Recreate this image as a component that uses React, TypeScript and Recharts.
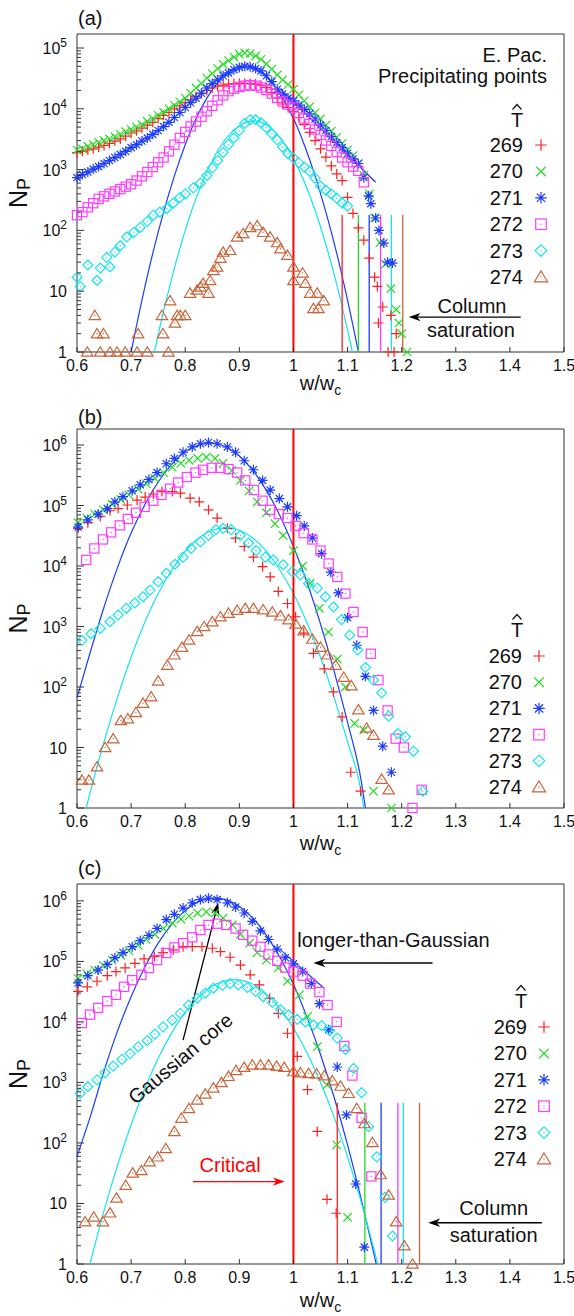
import React from "react";
import {
  ComposedChart,
  Scatter,
  Line,
  XAxis,
  YAxis,
  ReferenceLine,
  ReferenceArea,
  ReferenceDot,
  Legend,
} from "recharts";

const FONT = "'Liberation Sans', Arial, Helvetica, sans-serif";
const W = 574;

type Pt = [number, number];

// series: T-hat values, colours, gnuplot point types
const temps = ["269", "270", "271", "272", "273", "274"];
const colors = ["#ff2020", "#22dd22", "#1c3cff", "#ff3cff", "#14e4ee", "#c8643a"];
const kinds = ["plus", "cross", "star", "square", "diamond", "triangle"];
const fitBlue = "#1a3cff";
const fitCyan = "#14e4ee";

const xTicks = [0.6, 0.7, 0.8, 0.9, 1, 1.1, 1.2, 1.3, 1.4, 1.5];
const yMajorA = [1, 10, 100, 1e3, 1e4, 1e5];
const yMajorBC = [1, 10, 100, 1e3, 1e4, 1e5, 1e6];

// ---------- panel (a): E. Pac., precipitating points ----------
const a269: Pt[] = [
  [0.6, 1900], [0.61, 2000], [0.62, 2100], [0.63, 2200], [0.64, 2350], [0.65, 2500], [0.66, 2700], [0.67, 2950],
  [0.68, 3200], [0.69, 3550], [0.7, 4000], [0.71, 4350], [0.72, 4800], [0.73, 5400], [0.74, 6000], [0.75, 6900],
  [0.76, 7800], [0.77, 8700], [0.78, 1.0e4], [0.79, 1.12e4], [0.8, 1.26e4], [0.81, 1.4e4], [0.82, 1.6e4], [0.83, 1.8e4],
  [0.84, 2.0e4], [0.85, 2.2e4], [0.86, 2.35e4], [0.87, 2.45e4], [0.88, 2.55e4], [0.89, 2.6e4], [0.9, 2.6e4], [0.91, 2.6e4],
  [0.92, 2.6e4], [0.93, 2.55e4], [0.94, 2.45e4], [0.95, 2.25e4], [0.96, 1.85e4], [0.97, 1.5e4], [0.98, 1.2e4], [0.99, 1.05e4],
  [1.0, 9100], [1.01, 7200], [1.02, 5500], [1.03, 4100], [1.04, 3000], [1.05, 2200], [1.06, 1600], [1.07, 1150],
  [1.08, 850], [1.09, 660], [1.1, 350], [1.11, 190], [1.12, 110], [1.13, 69], [1.14, 35], [1.15, 17],
  [1.155, 12], [1.157, 3], [1.165, 5.5], [1.175, 1], [1.18, 4], [1.186, 1], [1.19, 2],
];
const a270: Pt[] = [
  [0.6, 2100], [0.61, 2200], [0.62, 2400], [0.63, 2600], [0.64, 2800], [0.65, 3000], [0.66, 3200], [0.67, 3500],
  [0.68, 3800], [0.69, 4200], [0.7, 4600], [0.71, 5000], [0.72, 5500], [0.73, 6200], [0.74, 6900], [0.75, 7800],
  [0.76, 8700], [0.77, 1.0e4], [0.78, 1.15e4], [0.79, 1.3e4], [0.8, 1.5e4], [0.81, 1.8e4], [0.82, 2.2e4], [0.83, 2.6e4],
  [0.84, 3.2e4], [0.85, 3.8e4], [0.86, 4.6e4], [0.87, 5.4e4], [0.88, 6.2e4], [0.89, 7.1e4], [0.9, 7.9e4], [0.91, 8.3e4],
  [0.92, 8.1e4], [0.93, 7.4e4], [0.94, 6.5e4], [0.95, 5.5e4], [0.96, 4.5e4], [0.97, 3.6e4], [0.98, 3.0e4], [0.99, 2.5e4],
  [1.0, 2.1e4], [1.01, 1.7e4], [1.02, 1.35e4], [1.03, 1.08e4], [1.04, 8600], [1.05, 6800], [1.06, 5400], [1.07, 4300],
  [1.08, 3400], [1.09, 2700], [1.1, 2100], [1.11, 1700], [1.12, 1260], [1.13, 800], [1.14, 400], [1.15, 160],
  [1.16, 63], [1.17, 28], [1.18, 11], [1.19, 5], [1.195, 3], [1.2, 2], [1.21, 1],
];
const a271: Pt[] = [
  [0.6, 740], [0.61, 830], [0.62, 910], [0.63, 1020], [0.64, 1120], [0.65, 1260], [0.66, 1410], [0.67, 1580],
  [0.68, 1780], [0.69, 2000], [0.7, 2300], [0.71, 2570], [0.72, 2950], [0.73, 3300], [0.74, 3800], [0.75, 4400],
  [0.76, 5100], [0.77, 6000], [0.78, 7200], [0.79, 8700], [0.8, 1.05e4], [0.81, 1.26e4], [0.82, 1.5e4], [0.83, 1.8e4],
  [0.84, 2.2e4], [0.85, 2.6e4], [0.86, 3.0e4], [0.87, 3.5e4], [0.88, 3.9e4], [0.89, 4.4e4], [0.9, 4.8e4], [0.91, 5.0e4],
  [0.92, 4.9e4], [0.93, 4.6e4], [0.94, 4.2e4], [0.95, 3.5e4], [0.96, 2.8e4], [0.97, 2.1e4], [0.98, 1.75e4], [0.99, 1.5e4],
  [1.0, 1.35e4], [1.01, 1.15e4], [1.02, 9800], [1.03, 8300], [1.04, 6800], [1.05, 5400], [1.06, 4400], [1.07, 3500],
  [1.08, 2800], [1.09, 2300], [1.1, 1860], [1.11, 1500], [1.12, 1260], [1.13, 740], [1.139, 370], [1.143, 275],
  [1.152, 160], [1.158, 100], [1.167, 62], [1.174, 30], [1.183, 29],
];
const a272: Pt[] = [
  [0.6, 178], [0.61, 200], [0.62, 240], [0.63, 280], [0.64, 330], [0.65, 363], [0.66, 400], [0.67, 437],
  [0.68, 479], [0.69, 525], [0.7, 575], [0.71, 660], [0.72, 776], [0.73, 912], [0.74, 1100], [0.75, 1320],
  [0.76, 1580], [0.77, 2000], [0.78, 2570], [0.79, 3310], [0.8, 4170], [0.81, 5130], [0.82, 6170], [0.83, 7410],
  [0.84, 9120], [0.85, 1.12e4], [0.86, 1.38e4], [0.87, 1.66e4], [0.88, 1.95e4], [0.89, 2.14e4], [0.9, 2.29e4], [0.91, 2.4e4],
  [0.92, 2.45e4], [0.93, 2.4e4], [0.94, 2.24e4], [0.95, 2.04e4], [0.96, 1.78e4], [0.97, 1.51e4], [0.98, 1.32e4], [0.99, 1.17e4],
  [1.0, 1.05e4], [1.01, 8510], [1.02, 6920], [1.03, 5620], [1.04, 4570], [1.05, 3720], [1.06, 3020], [1.07, 2450],
  [1.08, 1950], [1.09, 1580], [1.1, 1320], [1.11, 1120], [1.12, 955], [1.13, 617],
];
const a273: Pt[] = [
  [0.6, 17], [0.606, 12], [0.62, 27], [0.637, 15], [0.643, 24], [0.655, 36], [0.661, 25], [0.67, 44],
  [0.68, 56], [0.692, 78], [0.705, 93], [0.717, 112], [0.73, 141], [0.741, 178], [0.753, 200], [0.766, 229],
  [0.778, 282], [0.79, 347], [0.8, 398], [0.815, 501], [0.828, 600], [0.84, 800], [0.85, 1070], [0.86, 1410],
  [0.87, 1910], [0.88, 2570], [0.89, 3310], [0.9, 4370], [0.91, 5750], [0.92, 6610], [0.93, 6610], [0.94, 5890],
  [0.95, 4900], [0.96, 3890], [0.97, 3090], [0.98, 2340], [0.99, 1820], [1.0, 1550], [1.01, 1290], [1.02, 1100],
  [1.03, 933], [1.04, 724], [1.05, 537], [1.06, 457], [1.07, 398], [1.08, 339], [1.09, 282], [1.1, 251],
];
const a274: Pt[] = [
  [0.619, 1], [0.633, 4], [0.637, 2], [0.643, 1], [0.649, 2], [0.661, 1], [0.674, 1], [0.689, 1],
  [0.711, 1], [0.713, 2], [0.73, 1], [0.757, 4], [0.759, 2], [0.769, 1], [0.772, 7], [0.781, 3],
  [0.785, 4], [0.791, 4], [0.8, 4], [0.809, 9.3], [0.822, 10.5], [0.828, 11.7], [0.833, 13.5], [0.843, 9.3],
  [0.846, 15], [0.852, 22], [0.859, 25], [0.865, 35], [0.87, 44], [0.883, 47], [0.896, 78], [0.907, 89],
  [0.92, 112], [0.933, 120], [0.944, 93], [0.957, 78], [0.97, 63], [0.976, 50], [0.989, 39], [1.0, 25],
  [1.0, 15], [1.017, 20], [1.022, 13.5], [1.031, 9.3], [1.037, 5.2], [1.044, 9.3], [1.046, 5.2], [1.056, 7],
];
const aFit271: Pt[] = [
  [0.7, 1], [0.72, 7.1], [0.74, 42], [0.76, 200], [0.78, 790], [0.8, 2570], [0.82, 6900], [0.84, 1.5e4],
  [0.86, 2.7e4], [0.88, 4.0e4], [0.9, 4.9e4], [0.91, 5.0e4], [0.92, 4.9e4], [0.94, 4.0e4], [0.96, 2.7e4], [0.98, 1.5e4],
  [1.0, 6900], [1.02, 2570], [1.04, 790], [1.06, 200], [1.08, 42], [1.1, 7.1], [1.12, 1],
];
const aFit273: Pt[] = [
  [0.743, 1], [0.76, 4.7], [0.78, 24], [0.8, 100], [0.82, 338], [0.84, 912], [0.86, 2040], [0.88, 3630],
  [0.9, 5250], [0.926, 6310], [0.94, 6030], [0.96, 4680], [0.98, 2950], [1.0, 1510], [1.02, 631], [1.04, 214],
  [1.06, 58], [1.08, 13], [1.1, 2.3], [1.109, 1],
];
const aTail271: Pt[] = [[0.976, 2.1e4], [1.152, 620]];
const aSat = [1.09, 1.12, 1.14, 1.161, 1.181, 1.202];

// ---------- panel (b) ----------
const b269: Pt[] = [
  [0.602, 4.2e4], [0.62, 5.2e4], [0.643, 6.6e4], [0.661, 8.2e4], [0.676, 8.9e4], [0.693, 1.02e5], [0.711, 1.23e5], [0.726, 1.38e5],
  [0.741, 1.55e5], [0.757, 1.7e5], [0.776, 1.7e5], [0.791, 1.6e5], [0.809, 1.32e5], [0.826, 1.15e5], [0.843, 8.5e4], [0.859, 6.2e4],
  [0.878, 4.2e4], [0.893, 2.9e4], [0.909, 2.1e4], [0.926, 1.4e4], [0.943, 9800], [0.957, 6600], [0.972, 3800], [0.989, 2400],
  [1.004, 1450], [1.019, 780], [1.037, 360], [1.057, 200], [1.074, 83], [1.09, 32], [1.106, 3.9], [1.124, 1.9],
];
const b270: Pt[] = [
  [0.602, 5.2e4], [0.618, 6.2e4], [0.633, 7.2e4], [0.649, 8.5e4], [0.665, 1.05e5], [0.681, 1.26e5], [0.696, 1.5e5], [0.713, 1.86e5],
  [0.728, 2.3e5], [0.744, 2.8e5], [0.76, 3.5e5], [0.776, 4.3e5], [0.792, 5.0e5], [0.807, 5.6e5], [0.823, 6.0e5], [0.839, 6.3e5],
  [0.855, 6.0e5], [0.87, 5.0e5], [0.886, 3.8e5], [0.902, 2.6e5], [0.918, 1.74e5], [0.933, 1.15e5], [0.95, 7.6e4], [0.966, 5.0e4],
  [0.981, 3.2e4], [1.0, 1.8e4], [1.017, 1.0e4], [1.031, 5200], [1.048, 2000], [1.065, 810], [1.081, 290], [1.096, 100],
  [1.113, 25], [1.13, 19.5], [1.148, 1.9], [1.181, 1],
];
const b271: Pt[] = [
  [0.602, 4.4e4], [0.62, 5.8e4], [0.639, 7.2e4], [0.656, 8.9e4], [0.67, 1.15e5], [0.685, 1.4e5], [0.702, 1.75e5], [0.717, 2.2e5],
  [0.733, 2.7e5], [0.748, 3.5e5], [0.765, 4.9e5], [0.78, 6.0e5], [0.796, 7.6e5], [0.813, 9.3e5], [0.828, 1.05e6], [0.843, 1.1e6],
  [0.859, 1.05e6], [0.878, 9.3e5], [0.893, 7.6e5], [0.909, 5.5e5], [0.926, 3.9e5], [0.943, 2.6e5], [0.957, 1.8e5], [0.974, 1.3e5],
  [0.989, 9.5e4], [1.006, 6.8e4], [1.02, 4.6e4], [1.035, 2.9e4], [1.052, 1.6e4], [1.069, 7900], [1.083, 3600], [1.1, 1400],
  [1.117, 490], [1.133, 150], [1.148, 41], [1.165, 10.5], [1.181, 3.9],
];
const b272: Pt[] = [
  [0.617, 1.26e4], [0.632, 1.95e4], [0.648, 2.75e4], [0.663, 3.6e4], [0.679, 4.7e4], [0.694, 6.0e4], [0.709, 7.6e4], [0.725, 9.5e4],
  [0.741, 1.2e5], [0.756, 1.5e5], [0.772, 1.9e5], [0.787, 2.4e5], [0.803, 2.95e5], [0.819, 3.5e5], [0.833, 3.9e5], [0.849, 4.2e5],
  [0.865, 4.2e5], [0.88, 4.0e5], [0.896, 3.5e5], [0.911, 2.6e5], [0.927, 1.8e5], [0.943, 1.2e5], [0.957, 8.5e4], [0.973, 7.2e4],
  [0.989, 6.2e4], [1.004, 4.6e4], [1.019, 3.5e4], [1.035, 2.75e4], [1.05, 1.8e4], [1.065, 1.1e4], [1.081, 6600], [1.096, 3500],
  [1.111, 1740], [1.128, 810], [1.143, 355], [1.157, 130], [1.174, 41], [1.189, 14], [1.204, 10], [1.22, 1], [1.237, 2],
];
const b273: Pt[] = [
  [0.609, 590], [0.626, 760], [0.643, 930], [0.661, 1200], [0.676, 1550], [0.691, 2000], [0.707, 2450], [0.722, 3100],
  [0.735, 4000], [0.75, 5500], [0.765, 7600], [0.781, 1.07e4], [0.796, 1.4e4], [0.811, 1.95e4], [0.828, 2.5e4], [0.843, 3.2e4],
  [0.857, 4.0e4], [0.87, 4.2e4], [0.885, 4.0e4], [0.902, 3.2e4], [0.917, 2.4e4], [0.931, 1.8e4], [0.948, 1.4e4], [0.963, 1.26e4],
  [0.981, 1.05e4], [0.998, 8100], [1.013, 7100], [1.028, 5100], [1.044, 4300], [1.059, 3100], [1.074, 2100], [1.089, 1300],
  [1.104, 720], [1.119, 410], [1.133, 210], [1.148, 130], [1.163, 80], [1.176, 33], [1.193, 17], [1.207, 15],
  [1.222, 8.7], [1.239, 1.9],
];
const b274: Pt[] = [
  [0.609, 2.9], [0.622, 2.9], [0.637, 4.8], [0.652, 10], [0.667, 14], [0.681, 28], [0.694, 30], [0.709, 38],
  [0.722, 54], [0.737, 69], [0.75, 126], [0.767, 230], [0.78, 340], [0.794, 455], [0.807, 600], [0.822, 830],
  [0.835, 1000], [0.85, 1200], [0.865, 1450], [0.88, 1660], [0.896, 1860], [0.911, 2000], [0.926, 2000], [0.944, 1900],
  [0.961, 1740], [0.976, 1500], [0.991, 1300], [1.004, 1100], [1.019, 850], [1.035, 620], [1.05, 455], [1.063, 340],
  [1.078, 230], [1.093, 145], [1.107, 105], [1.12, 42], [1.135, 21], [1.148, 16], [1.163, 3], [1.176, 2],
];
const bFit271: Pt[] = [
  [0.6, 66], [0.625, 390], [0.65, 2100], [0.675, 9500], [0.7, 3.5e4], [0.725, 1.02e5], [0.75, 2.45e5], [0.775, 4.8e5],
  [0.8, 7.8e5], [0.825, 1.0e6], [0.85, 1.07e6], [0.875, 9.3e5], [0.9, 6.6e5], [0.925, 3.8e5], [0.95, 1.78e5], [0.975, 6.8e4],
  [1.0, 2.1e4], [1.025, 5400], [1.05, 1100], [1.075, 185], [1.1, 26], [1.125, 2.9], [1.133, 1],
];
const bFit273: Pt[] = [
  [0.617, 1], [0.625, 1.9], [0.65, 12.5], [0.675, 68], [0.7, 310], [0.725, 1150], [0.75, 3500], [0.775, 8500],
  [0.8, 1.75e4], [0.825, 2.9e4], [0.85, 3.9e4], [0.875, 4.3e4], [0.9, 3.9e4], [0.925, 2.9e4], [0.95, 1.75e4], [0.975, 8500],
  [1.0, 3500], [1.025, 1150], [1.05, 310], [1.075, 68], [1.1, 12.5], [1.125, 1.9], [1.13, 1],
];

// ---------- panel (c) ----------
const c269: Pt[] = [
  [0.602, 3.2e4], [0.619, 3.8e4], [0.637, 4.7e4], [0.656, 5.8e4], [0.672, 6.8e4], [0.689, 7.8e4], [0.707, 9.3e4], [0.724, 1.1e5],
  [0.743, 1.2e5], [0.759, 1.4e5], [0.778, 1.55e5], [0.796, 1.75e5], [0.813, 1.75e5], [0.831, 1.75e5], [0.85, 1.65e5], [0.865, 1.45e5],
  [0.883, 1.17e5], [0.902, 8.7e4], [0.92, 6.0e4], [0.937, 4.1e4], [0.956, 2.45e4], [0.972, 1.38e4], [0.989, 6500], [1.007, 2700],
  [1.026, 760], [1.044, 155], [1.062, 11.7], [1.079, 6.9],
];
const c270: Pt[] = [
  [0.602, 5.2e4], [0.618, 6.2e4], [0.633, 7.2e4], [0.649, 8.5e4], [0.665, 1.05e5], [0.681, 1.26e5], [0.696, 1.5e5], [0.713, 1.86e5],
  [0.728, 2.3e5], [0.744, 2.8e5], [0.76, 3.5e5], [0.776, 4.3e5], [0.792, 5.0e5], [0.807, 5.6e5], [0.823, 6.3e5], [0.839, 6.6e5],
  [0.855, 6.3e5], [0.87, 5.2e5], [0.887, 4.0e5], [0.902, 2.8e5], [0.919, 2.0e5], [0.933, 1.4e5], [0.95, 1.05e5], [0.972, 7.8e4],
  [0.989, 4.7e4], [1.011, 2.8e4], [1.026, 1.23e4], [1.044, 3900], [1.062, 910], [1.08, 93], [1.1, 5.9],
];
const c271: Pt[] = [
  [0.602, 4.4e4], [0.62, 5.8e4], [0.639, 7.2e4], [0.656, 8.9e4], [0.67, 1.15e5], [0.685, 1.4e5], [0.702, 1.75e5], [0.717, 2.2e5],
  [0.733, 2.7e5], [0.748, 3.5e5], [0.765, 4.9e5], [0.78, 6.0e5], [0.796, 7.6e5], [0.813, 9.3e5], [0.828, 1.05e6], [0.843, 1.1e6],
  [0.859, 1.05e6], [0.878, 9.3e5], [0.893, 7.9e5], [0.909, 6.3e5], [0.924, 4.6e5], [0.939, 3.2e5], [0.954, 2.3e5], [0.97, 1.6e5],
  [0.985, 1.15e5], [1.0, 9.1e4], [1.017, 6.8e4], [1.033, 4.3e4], [1.048, 2.0e4], [1.065, 7400], [1.081, 1800], [1.098, 290],
  [1.115, 21], [1.131, 1.9],
];
const c272: Pt[] = [
  [0.609, 9600], [0.624, 1.32e4], [0.639, 1.7e4], [0.656, 2.2e4], [0.672, 2.8e4], [0.687, 3.8e4], [0.702, 4.9e4], [0.719, 6.0e4],
  [0.733, 7.8e4], [0.748, 1.05e5], [0.765, 1.38e5], [0.78, 1.7e5], [0.796, 2.0e5], [0.813, 2.5e5], [0.828, 3.3e5], [0.843, 4.0e5],
  [0.859, 4.2e5], [0.876, 4.0e5], [0.893, 3.5e5], [0.907, 2.75e5], [0.924, 2.2e5], [0.939, 1.74e5], [0.954, 1.3e5], [0.97, 1.02e5],
  [0.985, 7.9e4], [1.0, 6.8e4], [1.017, 5.8e4], [1.031, 4.3e4], [1.048, 3.1e4], [1.063, 1.9e4], [1.08, 1.0e4], [1.094, 4000],
  [1.109, 1300], [1.126, 260], [1.144, 28],
];
const c273: Pt[] = [
  [0.606, 660], [0.62, 850], [0.637, 1100], [0.652, 1450], [0.667, 1860], [0.683, 2400], [0.698, 3000], [0.713, 3900],
  [0.73, 4900], [0.744, 6300], [0.759, 8300], [0.776, 1.07e4], [0.791, 1.38e4], [0.806, 1.9e4], [0.822, 2.45e4], [0.837, 3.0e4],
  [0.852, 3.6e4], [0.869, 4.0e4], [0.883, 4.3e4], [0.898, 4.1e4], [0.915, 3.7e4], [0.93, 3.2e4], [0.944, 2.6e4], [0.961, 2.1e4],
  [0.976, 1.6e4], [0.991, 1.3e4], [1.007, 1.1e4], [1.022, 1.0e4], [1.037, 8900], [1.052, 8700], [1.067, 7200], [1.081, 5400],
  [1.096, 3500], [1.111, 1700], [1.126, 680], [1.139, 186], [1.154, 59], [1.169, 12.6], [1.183, 2.9],
];
const c274: Pt[] = [
  [0.615, 5], [0.631, 6], [0.648, 5], [0.661, 7], [0.673, 12.3], [0.69, 20], [0.703, 32], [0.719, 35],
  [0.734, 49], [0.749, 59], [0.764, 81], [0.78, 155], [0.793, 257], [0.807, 372], [0.822, 513], [0.837, 646],
  [0.852, 813], [0.867, 1000], [0.88, 1260], [0.894, 1580], [0.909, 1780], [0.924, 1950], [0.939, 1950], [0.954, 1950],
  [0.969, 1860], [0.983, 1780], [1.0, 1510], [1.013, 1450], [1.028, 1410], [1.043, 1380], [1.057, 1290], [1.072, 1070],
  [1.087, 870], [1.102, 660], [1.117, 372], [1.131, 209], [1.146, 102], [1.161, 30], [1.176, 13.8], [1.19, 5],
  [1.205, 2], [1.22, 1],
];
const cFit271: Pt[] = [
  [0.6, 60], [0.625, 280], [0.65, 1550], [0.675, 7100], [0.7, 2.6e4], [0.725, 7.9e4], [0.75, 2.0e5], [0.775, 4.1e5],
  [0.8, 6.9e5], [0.825, 9.8e5], [0.855, 1.12e6], [0.875, 1.05e6], [0.9, 8.1e5], [0.925, 5.2e5], [0.95, 2.7e5], [0.975, 1.17e5],
  [1.0, 4.2e4], [1.025, 1.2e4], [1.05, 2900], [1.075, 575], [1.1, 93], [1.125, 12], [1.153, 1],
];
const cFit273: Pt[] = [
  [0.624, 1], [0.65, 7.6], [0.675, 43], [0.7, 200], [0.725, 780], [0.75, 2500], [0.775, 6600], [0.8, 1.45e4],
  [0.825, 2.6e4], [0.85, 3.9e4], [0.89, 5.0e4], [0.925, 4.2e4], [0.95, 2.9e4], [0.975, 1.66e4], [1.0, 7900], [1.025, 3100],
  [1.05, 1000], [1.075, 270], [1.1, 59], [1.125, 10.7], [1.156, 1],
];
const cTail271: Pt[] = [[0.976, 1.55e5], [1.055, 3.7e4]];
const cSat = [1.081, 1.132, 1.162, 1.193, 1.203, 1.233];

// ---------- helpers ----------
const toObj = (a: Pt[]) => a.map(([x, y]) => ({ x, y }));

function withMinors(majors: number[], top: number) {
  const out: number[] = [];
  majors.forEach((m) => {
    out.push(m);
    for (let k = 2; k <= 9; k++) if (k * m <= top) out.push(k * m);
  });
  return out;
}

function Mark({ cx, cy, kind, color, s = 1 }: any) {
  if (cx == null || cy == null) return null;
  const st = { stroke: color, strokeWidth: 1.2, fill: "none" };
  const dot = <rect x={cx - 0.6} y={cy - 0.6} width={1.2} height={1.2} fill={color} />;
  if (kind === "plus") {
    const h = 5 * s;
    return <path d={`M${cx - h} ${cy}H${cx + h}M${cx} ${cy - h}V${cy + h}`} {...st} />;
  }
  if (kind === "cross") {
    const h = 4.2 * s;
    return <path d={`M${cx - h} ${cy - h}L${cx + h} ${cy + h}M${cx - h} ${cy + h}L${cx + h} ${cy - h}`} {...st} />;
  }
  if (kind === "star") {
    const h = 5 * s;
    const d = 3.6 * s;
    return (
      <path
        d={`M${cx - h} ${cy}H${cx + h}M${cx} ${cy - h}V${cy + h}M${cx - d} ${cy - d}L${cx + d} ${cy + d}M${cx - d} ${cy + d}L${cx + d} ${cy - d}`}
        {...st}
      />
    );
  }
  if (kind === "square") {
    const h = 4.6 * s;
    return (
      <g>
        <rect x={cx - h} y={cy - h} width={2 * h} height={2 * h} {...st} />
        {dot}
      </g>
    );
  }
  if (kind === "diamond") {
    const h = 5 * s;
    return (
      <g>
        <path d={`M${cx} ${cy - h}L${cx + h} ${cy}L${cx} ${cy + h}L${cx - h} ${cy}Z`} {...st} />
        {dot}
      </g>
    );
  }
  const h = 5.2 * s;
  return (
    <g>
      <path d={`M${cx} ${cy - h}L${cx + h * 1.1} ${cy + h * 0.8}L${cx - h * 1.1} ${cy + h * 0.8}Z`} {...st} />
      {dot}
    </g>
  );
}

function Arrow({ x1, y1, x2, y2, color }: any) {
  const dx = x2 - x1;
  const dy = y2 - y1;
  const L = Math.hypot(dx, dy) || 1;
  const ux = dx / L;
  const uy = dy / L;
  const len = 12;
  const w = 4.2;
  const bx = x2 - ux * len;
  const by = y2 - uy * len;
  const nx = x2 - ux * len * 0.7;
  const ny = y2 - uy * len * 0.7;
  return (
    <g>
      <line x1={x1} y1={y1} x2={nx} y2={ny} stroke={color} strokeWidth={1.3} />
      <polygon
        points={`${x2},${y2} ${bx - uy * w},${by + ux * w} ${nx},${ny} ${bx + uy * w},${by - ux * w}`}
        fill={color}
      />
    </g>
  );
}

const XTick = (p: any) => (
  <g>
    <line x1={p.x} x2={p.x} y1={p.y} y2={p.y - 5} stroke="#333" />
    <text x={p.x} y={p.y + 19} textAnchor="middle" fontSize={16} fontFamily={FONT} fill="#111">
      {String(p.payload.value)}
    </text>
  </g>
);

const YTick = (p: any) => {
  const v = p.payload.value;
  const lg = Math.log10(v);
  const e = Math.round(lg);
  const major = Math.abs(lg - e) < 1e-6;
  return (
    <g>
      <line x1={p.x} x2={p.x + (major ? 7 : 4)} y1={p.y} y2={p.y} stroke="#333" />
      {major && (
        <text x={p.x - 10} y={p.y + 6} textAnchor="end" fontSize={16} fontFamily={FONT} fill="#111">
          {e < 2 ? (
            String(v)
          ) : (
            <>
              <tspan>10</tspan>
              <tspan dy={-7} fontSize={12}>
                {e}
              </tspan>
            </>
          )}
        </text>
      )}
    </g>
  );
};

const YLabel = (p: any) => {
  const vb = p.viewBox;
  const cx = 27;
  const cy = vb.y + vb.height / 2;
  return (
    <text x={cx} y={cy} transform={`rotate(-90 ${cx} ${cy})`} textAnchor="middle" fontSize={25} fontFamily={FONT} fill="#111">
      <tspan>N</tspan>
      <tspan dy={3} fontSize={18}>
        P
      </tspan>
    </text>
  );
};

const xLabel = (dy: number) => (p: any) => {
  const vb = p.viewBox;
  return (
    <text x={vb.x + vb.width / 2} y={vb.y + dy} textAnchor="middle" fontSize={20} fontFamily={FONT} fill="#111">
      <tspan>w/w</tspan>
      <tspan dy={5} fontSize={14}>
        c
      </tspan>
    </text>
  );
};

// ---------- panels ----------
const red = "#ff0000";
const panels = [
  {
    id: "a", top: 0, height: 412, marginTop: 34, marginBottom: 12, xAxisH: 48, yMax: 1.7e5, majors: yMajorA,
    series: [a269, a270, a271, a272, a273, a274],
    fits: [
      { data: aFit271, color: fitBlue, type: "monotone" },
      { data: aFit273, color: fitCyan, type: "monotone" },
      { data: aTail271, color: fitBlue, type: "linear" },
    ],
    sat: aSat, satTop: 180,
    texts: [
      { x: 1.33, y: 4.4, text: "Column" },
      { x: 1.328, y: 1.76, text: "saturation" },
    ],
    arrows: [{ from: [1.42, 3.75], to: [1.213, 3.75], color: "#000" }],
    legend: { tx: 517, tBase: 127, base: 152, dy: 26.4, right: 523, sym: 541, title: true },
    labelBase: 25, xLabelDy: 38,
  },
  {
    id: "b", top: 400, height: 470, marginTop: 29, marginBottom: 17, xAxisH: 45, yMax: 1.84e6, majors: yMajorBC,
    series: [b269, b270, b271, b272, b273, b274],
    fits: [
      { data: bFit271, color: fitBlue, type: "monotone" },
      { data: bFit273, color: fitCyan, type: "monotone" },
    ],
    sat: [] as number[], satTop: 1,
    texts: [],
    arrows: [],
    legend: { tx: 517, tBase: 237, base: 263, dy: 26.2, right: 522, sym: 539, title: false },
    labelBase: 24, xLabelDy: 42,
  },
  {
    id: "c", top: 853, height: 463, marginTop: 31, marginBottom: 3, xAxisH: 49, yMax: 1.9e6, majors: yMajorBC,
    series: [c269, c270, c271, c272, c273, c274],
    fits: [
      { data: cFit271, color: fitBlue, type: "monotone" },
      { data: cFit273, color: fitCyan, type: "monotone" },
      { data: cTail271, color: fitBlue, type: "linear" },
    ],
    sat: cSat, satTop: 460,
    texts: [
      { x: 1.007, y: 1.74e5, text: "longer-than-Gaussian", anchor: "start" },
      { x: 0.791, y: 2500, text: "Gaussian core", rotate: -40 },
      { x: 0.883, y: 33, text: "Critical", color: red },
      { x: 1.37, y: 6.5, text: "Column" },
      { x: 1.37, y: 2.3, text: "saturation" },
    ],
    arrows: [
      { from: [1.257, 9.4e4], to: [1.037, 9.4e4], color: "#000" },
      { from: [0.796, 5000], to: [0.861, 9.3e5], color: "#000" },
      { from: [0.814, 23], to: [0.984, 23], color: red },
      { from: [1.459, 4.8], to: [1.249, 4.8], color: "#000" },
    ],
    legend: { tx: 521, tBase: 155, base: 181, dy: 26.4, right: 527, sym: 544, title: false },
    labelBase: 22, xLabelDy: 43,
  },
];

function Overlay({ cfg }: any) {
  const L = cfg.legend;
  return (
    <svg width={W} height={cfg.height} style={{ display: "block" }} fontFamily={FONT} fill="#111">
      <text x={78} y={cfg.labelBase} fontSize={20}>{`(${cfg.id})`}</text>
      {L.title && (
        <>
          <text x={547} y={61.5} textAnchor="end" fontSize={20}>E. Pac.</text>
          <text x={547} y={82.5} textAnchor="end" fontSize={20}>Precipitating points</text>
        </>
      )}
      <text x={L.tx} y={L.tBase} textAnchor="middle" fontSize={20}>T</text>
      <polyline
        points={`${L.tx - 4.5},${L.tBase - 17.5} ${L.tx},${L.tBase - 22.5} ${L.tx + 4.5},${L.tBase - 17.5}`}
        fill="none"
        stroke="#111"
        strokeWidth={1.2}
      />
      {temps.map((t, i) => (
        <g key={t}>
          <text x={L.right} y={L.base + i * L.dy} textAnchor="end" fontSize={20}>{t}</text>
          <Mark cx={L.sym} cy={L.base + i * L.dy - 7} kind={kinds[i]} color={colors[i]} s={1.15} />
        </g>
      ))}
    </svg>
  );
}

function Panel({ cfg }: any) {
  const yTicks = withMinors(cfg.majors, cfg.yMax);
  return (
    <div style={{ position: "absolute", left: 0, top: cfg.top, width: W, height: cfg.height }}>
      <ComposedChart
        width={W}
        height={cfg.height}
        margin={{ top: cfg.marginTop, right: 10, bottom: cfg.marginBottom, left: 0 }}
      >
        <XAxis
          type="number" dataKey="x" domain={[0.6, 1.5]} ticks={xTicks} interval={0}
          tickLine={false} axisLine={false} tickSize={0} tickMargin={0} height={cfg.xAxisH}
          tick={XTick} label={xLabel(cfg.xLabelDy)}
        />
        <YAxis
          type="number" dataKey="y" scale="log" domain={[1, cfg.yMax]} ticks={yTicks} interval={0}
          tickLine={false} axisLine={false} tickSize={0} tickMargin={0} width={77}
          tick={YTick} label={YLabel}
        />
        <ReferenceArea x1={0.6} x2={1.5} y1={1} y2={cfg.yMax} fill="none" stroke="#333" strokeWidth={1} />
        {cfg.series.map((s: Pt[], i: number) => (
          <Scatter
            key={temps[i]}
            name={temps[i]}
            data={toObj(s)}
            dataKey="y"
            isAnimationActive={false}
            shape={(p: any) => <Mark cx={p.cx} cy={p.cy} kind={kinds[i]} color={colors[i]} />}
          />
        ))}
        {cfg.fits.map((f: any, i: number) => (
          <Line
            key={"fit" + i}
            data={toObj(f.data)}
            dataKey="y"
            type={f.type}
            stroke={f.color}
            strokeWidth={1.2}
            dot={false}
            activeDot={false}
            legendType="none"
            isAnimationActive={false}
          />
        ))}
        {cfg.sat.map((x: number, i: number) => (
          <ReferenceLine key={"sat" + i} segment={[{ x, y: 1 }, { x, y: cfg.satTop }]} stroke={colors[i]} strokeWidth={1.3} />
        ))}
        <ReferenceLine x={1} stroke={red} strokeWidth={2} />
        {cfg.arrows.map((a: any, i: number) => (
          <ReferenceLine
            key={"arr" + i}
            segment={[{ x: a.from[0], y: a.from[1] }, { x: a.to[0], y: a.to[1] }]}
            shape={(p: any) => <Arrow x1={p.x1} y1={p.y1} x2={p.x2} y2={p.y2} color={a.color} />}
          />
        ))}
        {cfg.texts.map((t: any, i: number) => (
          <ReferenceDot
            key={"t" + i}
            x={t.x}
            y={t.y}
            r={0}
            shape={(p: any) => (
              <text
                x={p.cx}
                y={p.cy}
                textAnchor={t.anchor || "middle"}
                dominantBaseline={t.rotate ? "central" : undefined}
                transform={t.rotate ? `rotate(${t.rotate} ${p.cx} ${p.cy})` : undefined}
                fontSize={20}
                fontFamily={FONT}
                fill={t.color || "#111"}
              >
                {t.text}
              </text>
            )}
          />
        ))}
        <Legend
          layout="vertical"
          align="center"
          verticalAlign="middle"
          wrapperStyle={{ left: 0, top: 0, width: W, height: cfg.height, pointerEvents: "none" }}
          content={() => <Overlay cfg={cfg} />}
        />
      </ComposedChart>
    </div>
  );
}

export default function App() {
  return (
    <div style={{ position: "absolute", left: 0, top: 0, width: W, height: 1316, background: "#fff" }}>
      {panels.map((cfg) => (
        <Panel key={cfg.id} cfg={cfg} />
      ))}
    </div>
  );
}
